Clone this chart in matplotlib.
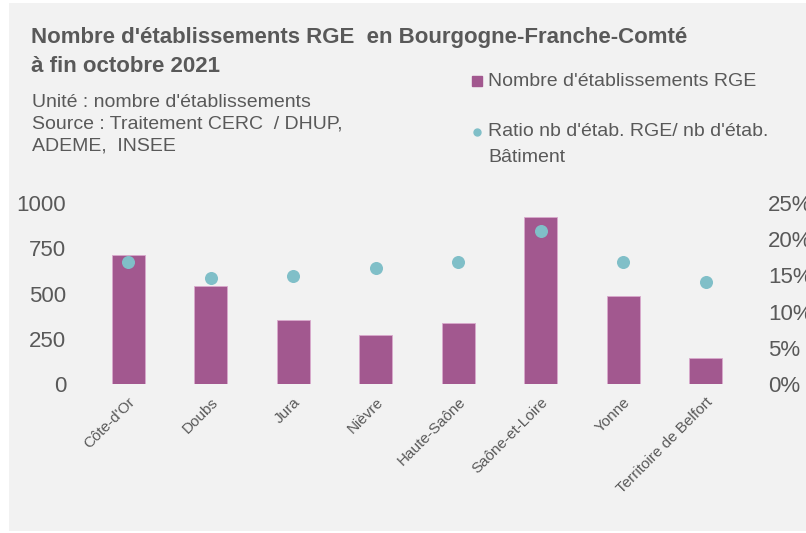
import matplotlib
matplotlib.use("Agg")
import matplotlib.pyplot as plt
from matplotlib.patches import Rectangle
from matplotlib.lines import Line2D
from matplotlib.ticker import FuncFormatter

plt.rcParams['font.family'] = ['Liberation Sans', 'DejaVu Sans']

# data
departements = ["Côte-d'Or", "Doubs", "Jura", "Nièvre", "Haute-Saône",
                "Saône-et-Loire", "Yonne", "Territoire de Belfort"]
nb_rge = [714, 544, 355, 269, 335, 922, 489, 145]
ratio_rge = [0.169, 0.146, 0.149, 0.160, 0.169, 0.211, 0.169, 0.141]

bar_col = '#A2588F'
dot_col = '#80BFC8'
txt_col = '#595959'

fig = plt.figure(figsize=(8.06, 5.33), dpi=100)
fig.patch.set_facecolor('white')
# grey panel behind everything
fig.add_artist(Rectangle((9 / 806, 1 - 531 / 533), 1, 528 / 533,
                         transform=fig.transFigure, facecolor='#F2F2F2',
                         edgecolor='none', zorder=-10))

ax = fig.add_axes([0.108, 0.2795, 0.819, 0.3396])
ax.set_facecolor('none')
x = range(len(departements))
ax.bar(x, nb_rge, width=0.4, color=bar_col, edgecolor='#D9A9CC', linewidth=0.6, zorder=2)
ax.set_ylim(0, 1000)
ax.set_xlim(-0.5, len(departements) - 0.5)
ax.set_yticks([0, 250, 500, 750, 1000])
ax.set_xticks(list(x))
ax.set_xticklabels(departements, rotation=45, ha='right', rotation_mode='anchor',
                   fontsize=11, color=txt_col)
ax.tick_params(axis='x', length=0, pad=8)
ax.tick_params(axis='y', length=0, pad=15, labelsize=16, labelcolor=txt_col)
for s in ax.spines.values():
    s.set_visible(False)

ax2 = ax.twinx()
ax2.scatter(x, ratio_rge, s=70, color=dot_col, zorder=3)
ax2.set_ylim(0, 0.25)
ax2.set_yticks([0, 0.05, 0.10, 0.15, 0.20, 0.25])
ax2.yaxis.set_major_formatter(FuncFormatter(lambda v, p: '{:.0f}%'.format(v * 100)))
ax2.tick_params(axis='y', length=0, pad=15, labelsize=16, labelcolor=txt_col)
for s in ax2.spines.values():
    s.set_visible(False)

# titles
fig.text(31 / 806, 1 - 38 / 533, "Nombre d'établissements RGE  en Bourgogne-Franche-Comté",
         fontsize=16, fontweight='bold', color=txt_col, va='center')
fig.text(31 / 806, 1 - 67 / 533, "à fin octobre 2021",
         fontsize=16, fontweight='bold', color=txt_col, va='center')
fig.text(32 / 806, 1 - 102 / 533, "Unité : nombre d'établissements",
         fontsize=14, color=txt_col, va='center')
fig.text(32 / 806, 1 - 124 / 533, "Source : Traitement CERC  / DHUP,",
         fontsize=14, color=txt_col, va='center')
fig.text(32 / 806, 1 - 146 / 533, "ADEME,  INSEE",
         fontsize=14, color=txt_col, va='center')

# legend, placed by hand
fig.add_artist(Line2D([477 / 806], [1 - 81 / 533], transform=fig.transFigure,
                      marker='s', markersize=7.5, color=bar_col, linestyle='none'))
fig.text(488 / 806, 1 - 81 / 533, "Nombre d'établissements RGE",
         fontsize=14, color=txt_col, va='center')
fig.add_artist(Line2D([477 / 806], [1 - 132 / 533], transform=fig.transFigure,
                      marker='o', markersize=5, color=dot_col, linestyle='none'))
fig.text(488 / 806, 1 - 131 / 533, "Ratio nb d'étab. RGE/ nb d'étab.",
         fontsize=14, color=txt_col, va='center')
fig.text(488 / 806, 1 - 157 / 533, "Bâtiment",
         fontsize=14, color=txt_col, va='center')

fig.savefig('out.png', dpi=100, facecolor=fig.get_facecolor())
